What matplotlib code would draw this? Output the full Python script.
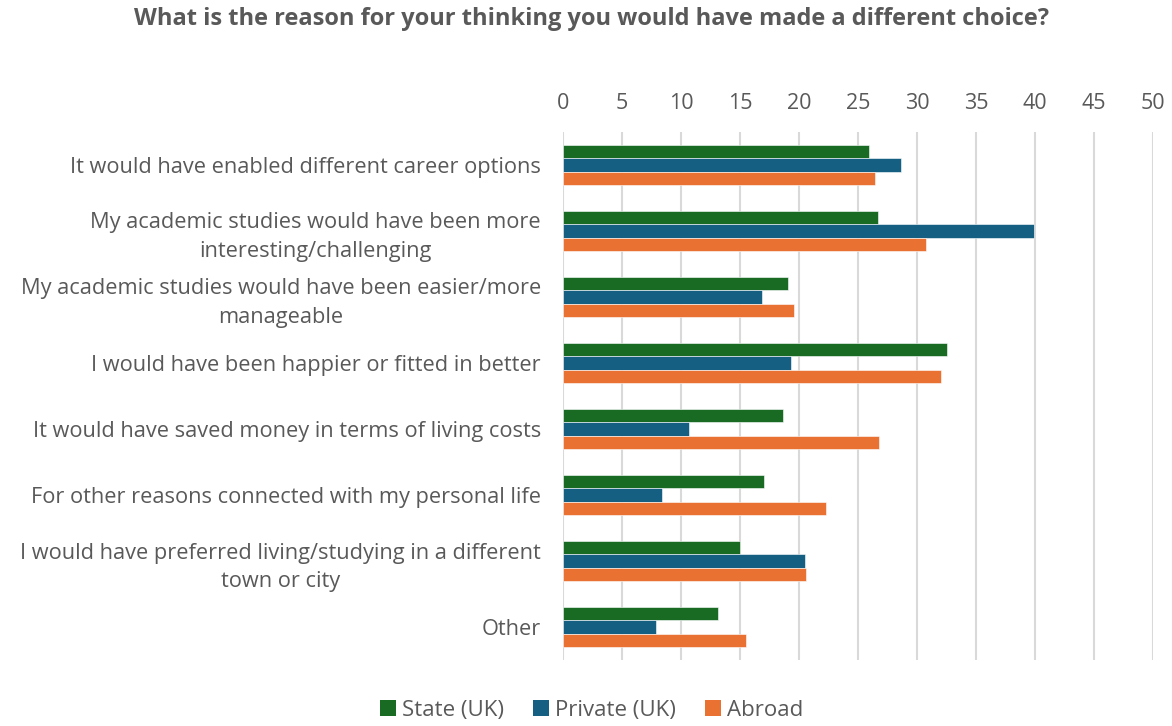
import numpy as np
import matplotlib.pyplot as plt
from matplotlib.patches import Patch

plt.rcParams['font.family'] = ['Open Sans', 'DejaVu Sans']

reasons = [
    "It would have enabled different career options",
    "My academic studies would have been more\ninteresting/challenging",
    "My academic studies would have been easier/more\nmanageable",
    "I would have been happier or fitted in better",
    "It would have saved money in terms of living costs",
    "For other reasons connected with my personal life",
    "I would have preferred living/studying in a different\ntown or city",
    "Other",
]
state_uk = [25.9, 26.7, 19.1, 32.5, 18.6, 17.0, 15.0, 13.1]
private_uk = [28.6, 39.9, 16.9, 19.3, 10.7, 8.4, 20.5, 7.9]
abroad = [26.4, 30.8, 19.6, 32.0, 26.8, 22.3, 20.6, 15.5]

series = [
    ("State (UK)", state_uk, '#196B24'),
    ("Private (UK)", private_uk, '#156082'),
    ("Abroad", abroad, '#E97132'),
]

text_col = '#595959'
grid_col = '#d9d9d9'

fig = plt.figure(figsize=(11.72, 7.26), dpi=100)
ax = fig.add_axes([0.4804, 0.0909, 0.5034, 0.7273])

y = np.arange(len(reasons))
h = 0.205
for k, (name, vals, col) in enumerate(series):
    ax.barh(y + (k - 1) * h, vals, height=h, color=col,
            edgecolor='white', linewidth=0.4, label=name, zorder=3)

ax.set_xlim(0, 50)
ax.set_ylim(len(reasons) - 0.5, -0.5)
ax.set_xticks(np.arange(0, 51, 5))
ax.xaxis.tick_top()
ax.tick_params(axis='x', length=0, pad=13, labelsize=15.5, labelcolor=text_col)
ax.tick_params(axis='y', length=0, pad=16, labelsize=15.7, labelcolor=text_col)
ax.set_yticks(y)
ax.set_yticklabels(reasons, multialignment='center', linespacing=1.45)
ax.grid(axis='x', color=grid_col, linewidth=1.5, zorder=0)
for s in ax.spines.values():
    s.set_visible(False)

fig.suptitle("What is the reason for your thinking you would have made a different choice?",
             x=0.505, y=0.99, fontsize=17, fontweight='bold', color=text_col)

handles = [Patch(facecolor=c, label=n) for n, _, c in series]
fig.legend(handles=handles, loc='lower center', bbox_to_anchor=(0.505, -0.02),
           ncol=3, frameon=False, fontsize=16, labelcolor=text_col,
           handlelength=0.7, handleheight=0.7, handletextpad=0.3, columnspacing=1.3)

fig.savefig('out.png', dpi=100)
